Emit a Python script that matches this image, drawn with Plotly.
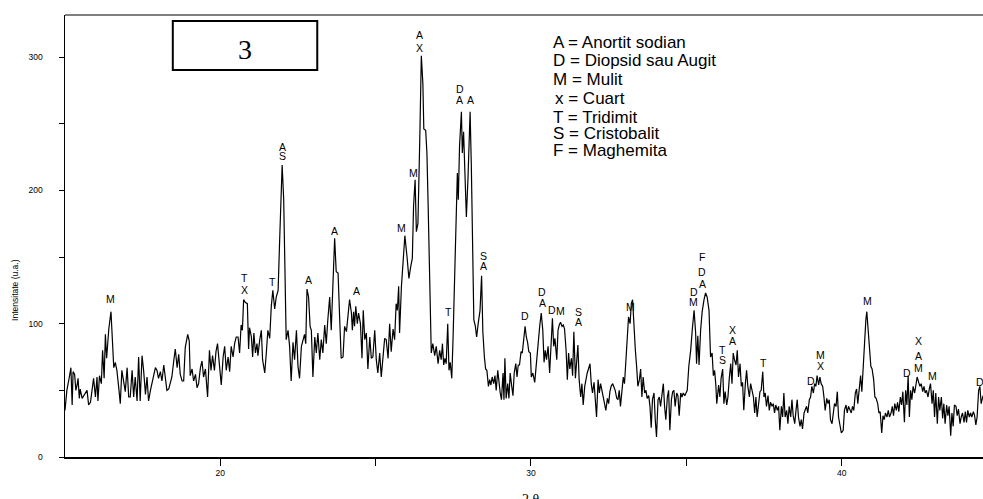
import plotly.graph_objects as go

# ---- XRD pattern: (2theta, intensity) ----
seg_15_20 = [(15.00,35),(15.06,50),(15.14,60),(15.19,67),(15.23,39),(15.26,64),(15.31,62),(15.35,50),(15.39,54),(15.42,59),(15.46,44),(15.49,51),(15.55,44),(15.60,46),(15.65,47),(15.71,50),(15.76,39),(15.82,41),(15.87,50),(15.92,59),(15.98,45),(16.03,60),(16.06,42),(16.11,61),(16.17,55),(16.21,80),(16.26,59),(16.30,92),(16.34,74),(16.41,96),(16.48,109),(16.51,92),(16.57,67),(16.62,71),(16.67,65),(16.73,52),(16.78,40),(16.83,65),(16.89,56),(16.94,49),(17.00,67),(17.05,45),(17.10,45),(17.16,65),(17.21,45),(17.26,60),(17.32,42),(17.37,75),(17.42,42),(17.48,76),(17.53,65),(17.59,47),(17.64,60),(17.69,42),(17.75,50),(17.80,55),(17.85,62),(17.91,67),(17.96,65),(18.01,59),(18.07,64),(18.12,57),(18.18,69),(18.23,60),(18.28,50),(18.34,51),(18.39,55),(18.44,60),(18.50,72),(18.55,81),(18.61,67),(18.66,77),(18.71,62),(18.77,57),(18.82,57),(18.87,82),(18.95,92),(19.00,87),(19.03,61),(19.09,66),(19.14,57),(19.20,62),(19.25,52),(19.30,55),(19.36,67),(19.41,72),(19.46,60),(19.52,66),(19.59,45),(19.65,80),(19.70,65),(19.75,76),(19.81,65),(19.86,79),(19.91,85),(19.97,70)]

seg_20_25 = [(20.03,54),(20.09,75),(20.14,83),(20.19,65),(20.25,75),(20.30,64),(20.35,83),(20.41,75),(20.46,85),(20.51,90),(20.57,90),(20.62,78),(20.67,99),(20.71,95),(20.75,118),(20.80,116),(20.87,115),(20.91,81),(20.94,97),(21.00,90),(21.04,75),(21.08,93),(21.13,78),(21.18,85),(21.21,76),(21.27,88),(21.32,95),(21.36,73),(21.43,63),(21.48,78),(21.53,95),(21.59,89),(21.64,113),(21.69,125),(21.75,111),(21.80,120),(21.86,125),(21.91,163),(21.96,203),(21.99,219),(22.04,193),(22.07,138),(22.12,88),(22.18,95),(22.23,83),(22.28,57),(22.34,86),(22.39,73),(22.45,95),(22.50,68),(22.55,59),(22.61,83),(22.66,88),(22.71,92),(22.75,85),(22.79,126),(22.84,120),(22.89,98),(22.93,95),(22.98,60),(23.04,90),(23.09,78),(23.14,93),(23.20,73),(23.25,88),(23.30,78),(23.36,99),(23.41,85),(23.46,103),(23.52,120),(23.57,95),(23.63,138),(23.68,164),(23.73,139),(23.79,138),(23.84,105),(23.89,74),(23.95,75),(24.00,98),(24.06,94),(24.11,105),(24.16,118),(24.22,108),(24.25,95),(24.29,109),(24.32,98),(24.36,113),(24.41,100),(24.45,108),(24.51,100),(24.56,74),(24.60,110),(24.65,88),(24.70,93),(24.75,66),(24.81,90),(24.86,74),(24.91,75),(24.97,95)]

seg_25_30 = [(25.02,73),(25.07,63),(25.13,78),(25.18,60),(25.24,76),(25.29,89),(25.34,88),(25.40,74),(25.45,100),(25.50,79),(25.56,96),(25.61,88),(25.66,115),(25.70,110),(25.74,128),(25.77,93),(25.83,128),(25.88,150),(25.94,166),(26.01,150),(26.07,134),(26.13,143),(26.18,149),(26.22,188),(26.27,208),(26.31,169),(26.36,175),(26.42,238),(26.47,301),(26.52,280),(26.55,246),(26.61,245),(26.65,228),(26.69,188),(26.74,138),(26.79,78),(26.84,85),(26.90,76),(26.95,83),(27.01,70),(27.06,80),(27.11,73),(27.15,85),(27.19,69),(27.23,74),(27.27,70),(27.32,100),(27.36,65),(27.40,71),(27.45,59),(27.49,88),(27.54,138),(27.60,193),(27.63,213),(27.66,193),(27.70,233),(27.76,259),(27.79,228),(27.83,244),(27.87,208),(27.92,180),(27.97,208),(28.04,259),(28.08,218),(28.12,163),(28.16,103),(28.21,98),(28.25,90),(28.30,100),(28.36,110),(28.41,136),(28.45,94),(28.50,75),(28.54,66),(28.58,65),(28.63,53),(28.67,58),(28.71,54),(28.75,60),(28.80,55),(28.84,61),(28.88,50),(28.93,65),(28.97,53),(29.01,48),(29.05,43),(29.10,63),(29.13,43),(29.16,74),(29.20,44),(29.25,55),(29.29,44),(29.33,63),(29.38,53),(29.42,46),(29.46,63),(29.51,70),(29.55,60),(29.59,69),(29.63,69),(29.68,79),(29.72,78),(29.76,88),(29.81,98),(29.85,90),(29.89,86),(29.93,79),(29.98,78)]

seg_30_35 = [(30.01,60),(30.06,63),(30.12,56),(30.17,70),(30.22,79),(30.28,98),(30.33,108),(30.38,95),(30.42,71),(30.46,80),(30.50,73),(30.55,83),(30.60,63),(30.65,86),(30.69,104),(30.73,83),(30.77,89),(30.83,73),(30.87,95),(30.91,99),(30.95,101),(31.00,98),(31.04,99),(31.08,96),(31.13,80),(31.17,58),(31.21,78),(31.25,66),(31.30,74),(31.34,61),(31.38,94),(31.43,59),(31.47,73),(31.51,84),(31.55,58),(31.60,45),(31.64,55),(31.68,39),(31.73,53),(31.77,60),(31.81,63),(31.85,66),(31.90,70),(31.94,55),(31.98,48),(32.03,56),(32.07,44),(32.11,30),(32.16,58),(32.20,48),(32.24,55),(32.28,50),(32.33,45),(32.37,40),(32.41,35),(32.46,44),(32.50,40),(32.54,49),(32.58,53),(32.63,55),(32.67,53),(32.71,50),(32.76,44),(32.80,43),(32.84,50),(32.88,38),(32.93,50),(32.97,60),(33.01,55),(33.06,73),(33.10,95),(33.14,105),(33.19,100),(33.23,115),(33.27,118),(33.31,98),(33.36,80),(33.40,68),(33.44,53),(33.49,58),(33.53,66),(33.57,45),(33.61,60),(33.66,48),(33.70,50),(33.74,44),(33.79,46),(33.83,38),(33.87,22),(33.91,43),(33.96,48),(34.00,28),(34.04,15),(34.09,43),(34.13,45),(34.17,38),(34.22,50),(34.26,55),(34.30,38),(34.34,28),(34.39,45),(34.43,50),(34.47,20),(34.52,43),(34.56,49),(34.60,50),(34.64,38),(34.69,48),(34.73,46),(34.77,31),(34.82,48),(34.86,45),(34.90,48),(34.95,46),(34.99,48)]

seg_35_40 = [(35.03,50),(35.08,68),(35.14,80),(35.19,95),(35.25,110),(35.30,93),(35.33,70),(35.37,91),(35.41,69),(35.46,95),(35.51,109),(35.57,118),(35.62,123),(35.67,120),(35.73,110),(35.78,75),(35.83,78),(35.87,61),(35.91,65),(35.95,54),(35.98,40),(36.04,54),(36.08,45),(36.12,59),(36.17,66),(36.21,40),(36.25,49),(36.30,39),(36.34,45),(36.38,58),(36.43,70),(36.47,55),(36.51,78),(36.55,73),(36.60,69),(36.64,80),(36.68,60),(36.73,70),(36.77,53),(36.81,56),(36.85,35),(36.90,55),(36.94,65),(36.98,53),(37.03,45),(37.07,55),(37.11,50),(37.16,45),(37.20,33),(37.24,45),(37.28,30),(37.33,43),(37.37,49),(37.41,50),(37.46,64),(37.50,45),(37.54,48),(37.58,38),(37.63,46),(37.67,35),(37.71,41),(37.76,38),(37.80,40),(37.84,33),(37.88,39),(37.93,35),(37.97,38),(38.01,20),(38.06,38),(38.10,30),(38.14,48),(38.18,30),(38.23,35),(38.27,25),(38.31,38),(38.36,30),(38.40,43),(38.44,31),(38.49,25),(38.53,35),(38.57,43),(38.61,30),(38.66,23),(38.70,28),(38.74,21),(38.79,33),(38.83,35),(38.87,38),(38.91,33),(38.96,43),(39.00,45),(39.04,53),(39.09,48),(39.13,55),(39.17,53),(39.21,61),(39.26,54),(39.30,60),(39.34,55),(39.39,53),(39.43,45),(39.47,35),(39.52,44),(39.56,40),(39.60,43),(39.64,28),(39.69,25),(39.73,35),(39.77,40),(39.82,38),(39.86,49),(39.90,30),(39.94,25),(39.99,18)]

seg_40_45 = [(40.05,20),(40.09,35),(40.14,39),(40.18,33),(40.22,38),(40.27,35),(40.31,33),(40.35,38),(40.39,35),(40.44,48),(40.48,51),(40.52,40),(40.57,50),(40.61,61),(40.65,49),(40.70,73),(40.74,88),(40.78,103),(40.81,109),(40.86,90),(40.90,80),(40.94,68),(40.98,66),(41.03,58),(41.07,45),(41.11,44),(41.16,40),(41.20,33),(41.24,34),(41.29,18),(41.33,31),(41.37,28),(41.41,33),(41.46,30),(41.50,35),(41.54,30),(41.59,33),(41.63,38),(41.67,31),(41.71,40),(41.76,35),(41.80,41),(41.84,34),(41.89,45),(41.93,39),(41.97,49),(42.02,26),(42.06,50),(42.10,39),(42.14,61),(42.18,30),(42.22,50),(42.26,43),(42.30,53),(42.35,48),(42.39,54),(42.43,60),(42.48,56),(42.52,53),(42.56,55),(42.61,49),(42.65,53),(42.69,48),(42.73,50),(42.78,45),(42.82,51),(42.86,55),(42.91,40),(42.95,50),(42.99,30),(43.03,48),(43.08,25),(43.12,45),(43.16,35),(43.21,45),(43.25,29),(43.29,40),(43.33,25),(43.38,39),(43.42,31),(43.46,38),(43.51,16),(43.55,33),(43.59,23),(43.63,39),(43.68,38),(43.72,31),(43.76,36),(43.81,25),(43.85,30),(43.89,33),(43.94,26),(43.98,34),(44.02,26),(44.06,35),(44.11,30),(44.15,33),(44.19,30),(44.24,34),(44.28,31),(44.32,24),(44.36,30),(44.41,50),(44.45,53),(44.49,40),(44.54,45),(44.60,48)]

# ---- phase labels above peaks ----
peak_letters = ["M","T","X","T","A","S","A","A","A","M","M","A","X","T","D","A","A","S","A","D",
                "D","A","D","M","S","A","M","D","M","F","D","A","T","S","X","A","T","D","M","X",
                "M","D","X","A","M","M","D"]
peak_x = [16.48,20.77,20.77,21.68,21.99,21.99,22.83,23.69,24.37,25.84,26.21,26.40,26.40,27.34,27.71,27.71,28.06,28.46,28.46,29.81,
          30.36,30.36,30.67,30.96,31.52,31.52,33.21,35.24,35.24,35.52,35.52,35.52,36.16,36.16,36.49,36.49,37.50,39.00,39.32,39.32,
          40.82,42.09,42.46,42.46,42.46,42.93,44.45]
peak_y = [118.5,134,125,131,232.7,225.7,133,169.7,124.5,171.5,212.7,316.5,307,109,275.7,267.7,268,150.7,143,105.7,
          124,115.7,110,109.5,109,101,112.7,124,116.5,150,138.5,129.5,80.3,72.7,95.3,87.3,70.3,57,76.5,68.5,
          117,62.7,87.3,75.7,67,60.7,56.5]

legend_lines = ["A = Anortit sodian", "D = Diopsid sau Augit", "M = Mulit", "x = Cuart",
                "T = Tridimit", "S = Cristobalit", "F = Maghemita"]
legend_y = [310.7, 297.2, 283.3, 269.0, 254.8, 242.7, 230.2]
legend_x = [30.66, 30.66, 30.66, 30.71, 30.66, 30.66, 30.66]

x_tick_vals = [20, 25, 30, 35, 40]
x_tick_text = ["20", "", "30", "", "40"]
y_tick_vals = [0, 50, 100, 150, 200, 250, 300]
y_tick_text = ["0", "", "100", "", "200", "", "300"]

pts = seg_15_20 + seg_20_25 + seg_25_30 + seg_30_35 + seg_35_40 + seg_40_45
two_theta = [p[0] for p in pts]
intensity = [p[1] for p in pts]

SANS = "Liberation Sans, Arial, sans-serif"
SERIF = "Liberation Serif, Times New Roman, serif"

fig = go.Figure()
fig.add_trace(go.Scatter(x=two_theta, y=intensity, mode="lines",
                         line=dict(color="black", width=1.2), hoverinfo="skip"))

ann = []
for t, xx, yy in zip(peak_letters, peak_x, peak_y):
    ann.append(dict(x=xx, y=yy, xref="x", yref="y", text=t, showarrow=False,
                    font=dict(family=SANS, size=10.5, color="black"),
                    xanchor="center", yanchor="middle"))
for t, xx, yy in zip(legend_lines, legend_x, legend_y):
    ann.append(dict(x=xx, y=yy, xref="x", yref="y", text=t, showarrow=False,
                    font=dict(family=SANS, size=17, color="black"),
                    xanchor="left", yanchor="middle"))
ann.append(dict(x=20.79, y=306, xref="x", yref="y", text="3", showarrow=False,
                font=dict(family=SERIF, size=28, color="black"),
                xanchor="center", yanchor="middle"))
ann.append(dict(x=-0.0545, y=0.378, xref="paper", yref="paper", text="Intensitate (u.a.)",
                textangle=-90, showarrow=False,
                font=dict(family=SANS, size=8.5, color="black"),
                xanchor="center", yanchor="middle"))
ann.append(dict(x=30, y=-0.0747, xref="x", yref="paper", text="2 θ", showarrow=False,
                font=dict(family=SERIF, size=14, color="black"),
                xanchor="center", yanchor="top"))

shapes = [
    dict(type="line", xref="paper", yref="paper", x0=0, x1=1, y0=1, y1=1,
         line=dict(color="#555555", width=1.5)),
    dict(type="rect", xref="x", yref="y", x0=18.47, x1=23.12, y0=290.2, y1=327,
         line=dict(color="black", width=2), fillcolor="rgba(0,0,0,0)"),
]

fig.update_layout(
    width=983, height=499,
    margin=dict(l=65, r=0, t=15, b=42),
    plot_bgcolor="white", paper_bgcolor="white",
    showlegend=False,
    annotations=ann, shapes=shapes,
    xaxis=dict(range=[15.0, 44.55], tickvals=x_tick_vals, ticktext=x_tick_text,
               ticks="outside", ticklen=7, tickwidth=1, tickcolor="black",
               showline=True, linecolor="black", linewidth=1.5,
               showgrid=False, zeroline=False,
               tickfont=dict(family=SANS, size=8.5, color="black")),
    yaxis=dict(range=[0, 331.5], tickvals=y_tick_vals, ticktext=y_tick_text,
               ticks="outside", ticklen=5, tickwidth=1, tickcolor="black",
               showline=True, linecolor="black", linewidth=1.5,
               showgrid=False, zeroline=False, ticklabelstandoff=14,
               tickfont=dict(family=SANS, size=8.5, color="black")),
)

# remove the browser's default 8px page margin so the figure sits at the window's corner
fig.write_html("out.html",
               config={"displayModeBar": False, "staticPlot": True},
               post_script="document.body.style.margin='0';document.body.style.overflow='hidden';")
